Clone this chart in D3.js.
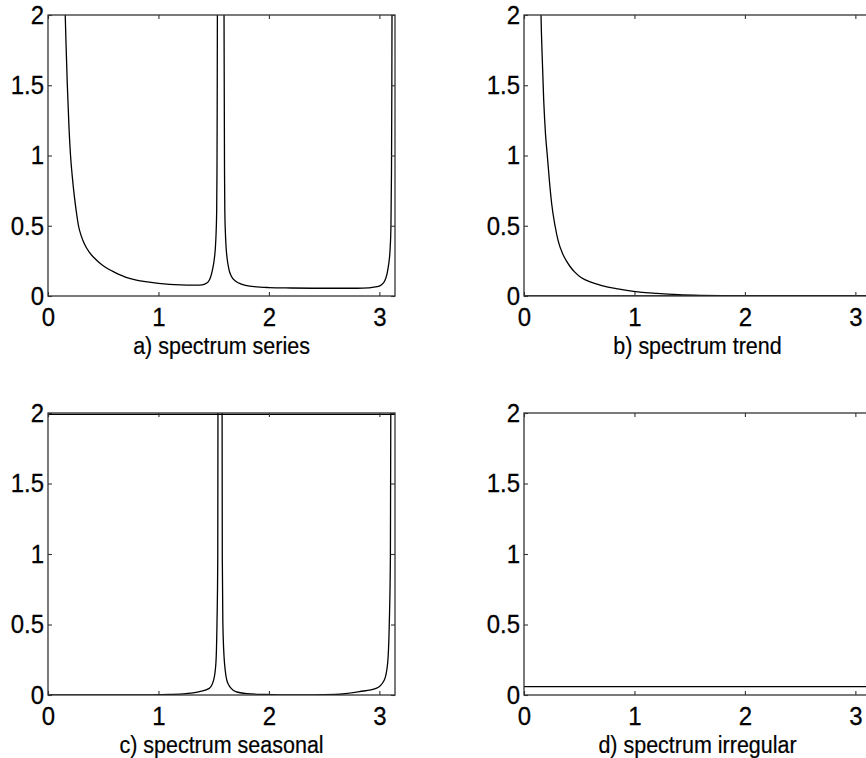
<!DOCTYPE html>
<html>
<head>
<meta charset="utf-8">
<script src="https://cdn.jsdelivr.net/npm/d3@7/dist/d3.min.js"></script>
<style>
  html, body { margin: 0; padding: 0; background: #fff; }
  svg { display: block; }
  text { font-family: "Liberation Sans", Arial, sans-serif; fill: #000; }
</style>
</head>
<body>
<svg id="chart" width="866" height="758"></svg>
<script>
// ---------------- data ----------------
const xTicks = [0, 1, 2, 3];
const yTicks = [0, 0.5, 1, 1.5, 2];
const yTickLabels = ["0", "0.5", "1", "1.5", "2"];
const xDomain = [0, Math.PI];
const yDomain = [0, 2];

const captions = ["a) spectrum series", "b) spectrum trend", "c) spectrum seasonal", "d) spectrum irregular"];

// a) spectrum of the series: [frequency, value]
const seriesSpectrum = [
  [0.148, 2.3], [0.156, 2.0], [0.165, 1.75], [0.175, 1.5], [0.19, 1.2], [0.204, 1.0],
  [0.22, 0.85], [0.24, 0.7], [0.26, 0.58], [0.276, 0.5], [0.3, 0.43], [0.33, 0.37],
  [0.375, 0.31], [0.42, 0.27], [0.46, 0.24], [0.5, 0.215], [0.55, 0.19], [0.6, 0.17],
  [0.7, 0.135], [0.8, 0.113],
  [0.9, 0.1], [1.0, 0.09], [1.1, 0.083], [1.2, 0.079], [1.3, 0.077], [1.37, 0.078],
  [1.42, 0.085], [1.45, 0.1], [1.47, 0.13], [1.49, 0.19], [1.505, 0.26], [1.515, 0.34],
  [1.522, 0.45], [1.527, 0.6], [1.53, 0.9], [1.532, 1.4], [1.534, 2.2], [1.562, 40],
  [1.593, 2.2], [1.596, 1.4], [1.598, 0.9], [1.601, 0.6], [1.606, 0.45], [1.613, 0.34],
  [1.623, 0.26], [1.638, 0.19], [1.66, 0.14], [1.7, 0.105], [1.75, 0.085], [1.85, 0.068],
  [2.0, 0.06], [2.2, 0.057], [2.5, 0.055], [2.8, 0.055], [2.9, 0.058], [2.98, 0.066],
  [3.02, 0.08], [3.05, 0.11], [3.07, 0.16], [3.085, 0.23], [3.097, 0.33], [3.105, 0.5],
  [3.11, 0.9], [3.113, 1.5], [3.115, 2.2], [3.1416, 40]
];

// b) spectrum of the trend
const trendSpectrum = [
  [0.148, 2.3], [0.154, 2.0], [0.165, 1.7], [0.178, 1.4], [0.195, 1.15], [0.211, 1.0],
  [0.23, 0.82], [0.25, 0.66], [0.281, 0.5], [0.31, 0.39], [0.35, 0.3], [0.38, 0.255],
  [0.417, 0.21], [0.46, 0.17], [0.52, 0.13], [0.6, 0.1], [0.66, 0.085], [0.75, 0.065],
  [0.85, 0.05], [0.93, 0.04], [1.05, 0.028], [1.2, 0.019], [1.4, 0.01], [1.6, 0.005],
  [1.8, 0.002], [2.0, 0.0], [2.5, 0.0], [3.1416, 0.0]
];
const trendBaseline = [[0, 0], [3.1416, 0]];

// c) spectrum of the seasonal component
const seasonalSpectrum = [
  [0.0, 0.0], [0.8, 0.0], [1.1, 0.004], [1.25, 0.01], [1.372, 0.024], [1.46, 0.047],
  [1.5, 0.107], [1.52, 0.225], [1.53, 0.51], [1.537, 0.98], [1.539, 2.2], [1.557, 40],
  [1.576, 2.2], [1.578, 0.98], [1.583, 0.51], [1.598, 0.225], [1.628, 0.083], [1.7, 0.024],
  [1.8, 0.01], [1.97, 0.004], [2.2, 0.0], [2.6, 0.004], [2.82, 0.024], [2.97, 0.047],
  [3.045, 0.107], [3.075, 0.225], [3.09, 0.51], [3.1, 0.98], [3.104, 2.2], [3.1416, 40]
];
const seasonalCeiling = [[0, 1.99], [3.1416, 1.99]];

// d) spectrum of the irregular component
const irregularSpectrum = [[0, 0.06], [3.1416, 0.06]];

// ---------------- layout ----------------
const panels = [
  { left: 48,  top: 15,  width: 347, height: 281, caption: captions[0], lines: [seriesSpectrum] },
  { left: 524, top: 15,  width: 347, height: 281, caption: captions[1], lines: [trendSpectrum, trendBaseline] },
  { left: 48,  top: 413, width: 347, height: 282, caption: captions[2], lines: [seasonalSpectrum, seasonalCeiling] },
  { left: 524, top: 413, width: 347, height: 282, caption: captions[3], lines: [irregularSpectrum] }
];

const svg = d3.select("#chart");
const tickScaleY = 1.08;
const capScaleY = 1.15;

panels.forEach((p, i) => {
  const g = svg.append("g").attr("transform", `translate(${p.left},${p.top})`);
  const x = d3.scaleLinear().domain(xDomain).range([0, p.width]);
  const y = d3.scaleLinear().domain(yDomain).range([p.height, 0]);

  const clipId = "clip" + i;
  g.append("clipPath").attr("id", clipId)
    .append("rect").attr("x", 0).attr("y", 0).attr("width", p.width).attr("height", p.height);

  const line = d3.line().x(d => x(d[0])).y(d => y(d[1])).curve(d3.curveMonotoneX);
  g.append("g").attr("clip-path", `url(#${clipId})`)
    .selectAll("path").data(p.lines).join("path")
    .attr("d", line)
    .attr("fill", "none")
    .attr("stroke", "#000")
    .attr("stroke-width", 1.3)
    .attr("stroke-linejoin", "round");

  const fmt = (d) => yTickLabels[yTicks.indexOf(d)];

  const axL = g.append("g").call(d3.axisLeft(y).tickValues(yTicks).tickFormat(fmt).tickSizeInner(-4).tickSizeOuter(0).tickPadding(4));
  const axB = g.append("g").attr("transform", `translate(0,${p.height})`)
    .call(d3.axisBottom(x).tickValues(xTicks).tickFormat(d3.format("d")).tickSizeInner(-4).tickSizeOuter(0).tickPadding(11));
  const axT = g.append("g").call(d3.axisTop(x).tickValues(xTicks).tickFormat("").tickSizeInner(-4).tickSizeOuter(0));
  const axR = g.append("g").attr("transform", `translate(${p.width},0)`)
    .call(d3.axisRight(y).tickValues(yTicks).tickFormat("").tickSizeInner(-4).tickSizeOuter(0));

  [axL, axB, axT, axR].forEach(a => {
    a.select(".domain").remove();
    a.selectAll(".tick line").attr("stroke", "#333").attr("stroke-width", 1.1);
    a.selectAll("text").attr("font-size", 24).attr("fill", "#000")
      .attr("stroke", "#000").attr("stroke-width", 0.25)
      .attr("transform", `scale(1,${tickScaleY})`)
      .style("font-family", '"Liberation Sans", Arial, sans-serif');
  });

  g.append("rect").attr("x", 0).attr("y", 0).attr("width", p.width).attr("height", p.height)
    .attr("fill", "none").attr("stroke", "#333").attr("stroke-width", 1.3);

  g.append("text")
    .attr("transform", `translate(${p.width / 2},${p.height + 58}) scale(1,${capScaleY})`)
    .attr("text-anchor", "middle")
    .attr("font-size", 21.5)
    .attr("stroke", "#000").attr("stroke-width", 0.2)
    .text(p.caption);
});
</script>
</body>
</html>
